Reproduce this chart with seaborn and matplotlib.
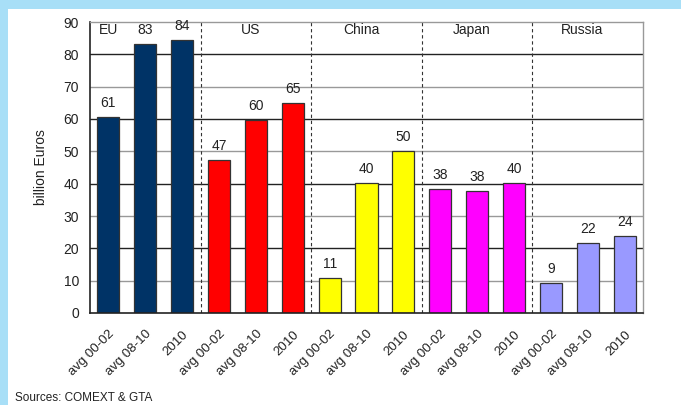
import matplotlib
matplotlib.use("Agg")
import matplotlib.pyplot as plt
import matplotlib.transforms as mtransforms
import seaborn as sns
import pandas as pd
from matplotlib.patches import Rectangle

regions = ["EU", "US", "China", "Japan", "Russia"]
periods = ["avg 00-02", "avg 08-10", "2010"]
eu = [60.7, 83.2, 84.4]
us = [47.4, 59.8, 65.1]
china = [10.8, 40.3, 50.2]
japan = [38.4, 37.6, 40.2]
russia = [9.4, 21.6, 23.9]
colors = ["#003366", "#FF0000", "#FFFF00", "#FF00FF", "#9999FF"]

series = [eu, us, china, japan, russia]
rows = []
for r, vals in zip(regions, series):
    for p, v in zip(periods, vals):
        rows.append({"key": f"{r}|{p}", "region": r, "period": p, "value": v})
df = pd.DataFrame(rows)

sns.set_theme(style="white")
plt.rcParams["font.family"] = ["Liberation Sans", "DejaVu Sans"]

fig = plt.figure(figsize=(6.81, 4.05), dpi=100)
fig.patch.set_facecolor("white")
# light blue frame strips
fig.patches.append(Rectangle((0, 1 - 9 / 405), 1, 9 / 405, transform=fig.transFigure,
                             facecolor="#A8DFF7", edgecolor="none", zorder=0))
fig.patches.append(Rectangle((0, 0), 8 / 681, 1, transform=fig.transFigure,
                             facecolor="#A8DFF7", edgecolor="none", zorder=0))

ax = fig.add_axes([90 / 681, 92 / 405, (643 - 90) / 681, (383 - 92) / 405])
sns.barplot(data=df, x="key", y="value", hue="region", palette=colors,
            dodge=False, width=0.6, edgecolor="#333333", linewidth=0.9,
            saturation=1, legend=False, ax=ax, zorder=3)

ax.set_ylim(0, 90)
ax.set_xlim(-0.5, len(df) - 0.5)
ax.set_yticks(range(0, 91, 10))
ax.set_yticklabels([str(v) for v in range(0, 91, 10)], fontsize=10, color="#222222")

# horizontal gridlines
for v in range(10, 90, 10):
    ax.axhline(v, color="#222222" if v % 20 == 0 else "#999999", lw=1.0, zorder=1)

# group separators
for g in range(1, len(regions)):
    ax.axvline(3 * g - 0.5, color="#333333", lw=0.8, ls=(0, (3, 2.5)), zorder=2)

# value labels
for c in ax.containers:
    ax.bar_label(c, labels=[f"{v:.0f}" for v in c.datavalues], padding=5,
                 fontsize=10, color="#222222")

# region labels
for g, r in enumerate(regions):
    xpos = 0 if g == 0 else 3 * g + 1 - 0.15
    ax.text(xpos, 87.4, r, ha="center", va="center", fontsize=10, color="#222222")

ax.set_xticks(range(len(df)))
ax.set_xticklabels(df["period"], rotation=45, ha="right", rotation_mode="anchor",
                   fontsize=9.5, color="#222222")
shift = mtransforms.ScaledTranslation(-5 / 100, 0, fig.dpi_scale_trans)
for lbl in ax.get_xticklabels():
    lbl.set_transform(lbl.get_transform() + shift)
ax.tick_params(axis="x", which="major", length=0, pad=11)
ax.set_xticks([3 * g - 0.5 for g in range(len(regions) + 1)], minor=True)
ax.tick_params(axis="x", which="minor", length=8, direction="inout", color="#222222", width=1.2)
ax.tick_params(axis="y", which="major", length=5, direction="out", color="#444444", width=1.0, pad=3)

ax.set_xlabel("")
ax.set_ylabel("billion Euros", fontsize=10, color="#222222", labelpad=11)

for s in ["top", "right"]:
    ax.spines[s].set_color("#999999")
    ax.spines[s].set_linewidth(1.0)
for s in ["left", "bottom"]:
    ax.spines[s].set_color("#222222")
    ax.spines[s].set_linewidth(1.2)
ax.spines["bottom"].set_zorder(4)

fig.text(15 / 681, 1 - 398 / 405, "Sources: COMEXT & GTA", fontsize=8.5,
         color="#222222", ha="left", va="center")

fig.savefig("out.png", dpi=100, facecolor=fig.get_facecolor())
